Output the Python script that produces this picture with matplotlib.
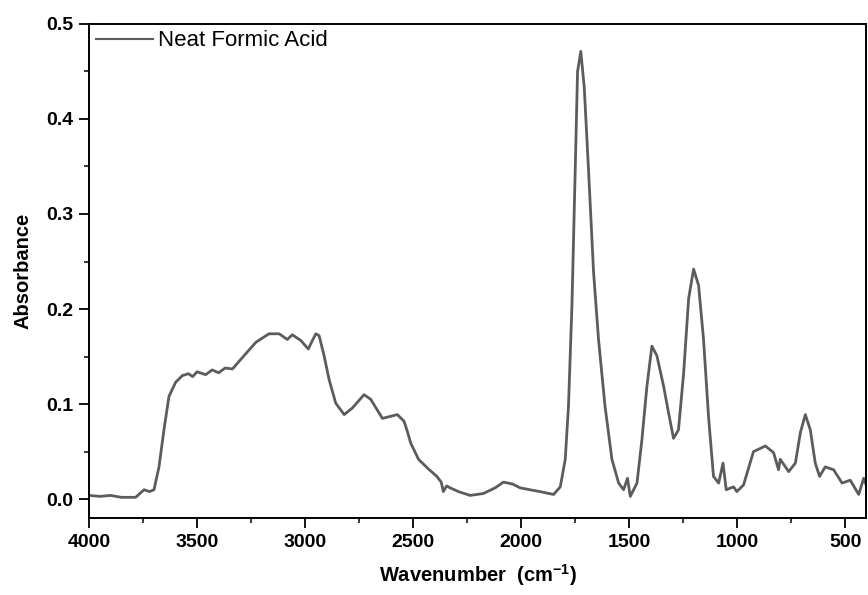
import matplotlib
matplotlib.use("Agg")
import matplotlib.pyplot as plt
from matplotlib.ticker import MultipleLocator, FormatStrFormatter

wavenumber = [4000, 3950, 3900, 3850, 3784, 3745, 3720, 3699, 3676, 3653, 3630, 3599, 3568,
              3540, 3520, 3500, 3460, 3430, 3400, 3370, 3336, 3290, 3228, 3167, 3120, 3082, 3059, 3020, 2985, 2966,
              2950, 2935, 2912, 2889, 2858, 2819, 2781, 2727, 2696, 2642, 2573, 2542, 2529,
              2511, 2475, 2430, 2390, 2370, 2360, 2345, 2329, 2290, 2236, 2175, 2120, 2082,
              2040, 2005, 1960, 1912, 1850, 1819, 1796, 1781, 1765, 1750, 1739, 1724, 1708,
              1688, 1665, 1642, 1612, 1580, 1549, 1526, 1508, 1495, 1464, 1441, 1418, 1395,
              1372, 1341, 1318, 1295, 1272, 1248, 1225, 1202, 1179, 1156, 1133, 1110, 1086,
              1066, 1051, 1017, 1002, 971, 925, 870, 832, 809, 801, 762, 731, 708, 685, 662,
              639, 619, 593, 554, 515, 477, 438, 415, 400]
absorbance = [0.004, 0.003, 0.004, 0.002, 0.002, 0.010, 0.008, 0.010, 0.034, 0.073, 0.108, 0.123, 0.130,
              0.132, 0.129, 0.134, 0.131, 0.136, 0.133, 0.138, 0.137, 0.149, 0.165, 0.174, 0.174, 0.168, 0.173, 0.167, 0.158, 0.167,
              0.174, 0.172, 0.151, 0.126, 0.101, 0.089, 0.096, 0.110, 0.105, 0.085, 0.089, 0.082, 0.073,
              0.059, 0.042, 0.032, 0.024, 0.018, 0.008, 0.014, 0.012, 0.008, 0.004, 0.006, 0.012, 0.018,
              0.016, 0.012, 0.010, 0.008, 0.005, 0.013, 0.042, 0.098, 0.204, 0.345, 0.450, 0.471, 0.433,
              0.345, 0.239, 0.168, 0.098, 0.042, 0.017, 0.010, 0.022, 0.003, 0.017, 0.063, 0.119, 0.161,
              0.151, 0.119, 0.091, 0.064, 0.073, 0.133, 0.211, 0.242, 0.225, 0.168, 0.087, 0.024, 0.017,
              0.038, 0.010, 0.013, 0.008, 0.015, 0.050, 0.056, 0.049, 0.031, 0.042, 0.029, 0.038, 0.070, 0.089, 0.073,
              0.038, 0.024, 0.034, 0.031, 0.017, 0.020, 0.005, 0.022, 0.013]

series_label = "Neat Formic Acid"
x_label = "Wavenumber  (cm$^{-1}$)"
y_label = "Absorbance"

plt.rcParams['font.family'] = ['Liberation Sans', 'DejaVu Sans']
plt.rcParams['mathtext.fontset'] = 'custom'
plt.rcParams['mathtext.rm'] = 'Liberation Sans:bold'
plt.rcParams['mathtext.bf'] = 'Liberation Sans:bold'
plt.rcParams['mathtext.it'] = 'Liberation Sans:bold'

fig = plt.figure(figsize=(8.68, 5.95), dpi=100)
ax = fig.add_axes([0.1025, 0.129, 0.8955, 0.831])

ax.plot(wavenumber, absorbance, color='#5c5c5c', lw=2.0, label=series_label)

ax.set_xlim(4000, 403)
ax.set_ylim(-0.02, 0.5)
ax.xaxis.set_major_locator(MultipleLocator(500))
ax.xaxis.set_minor_locator(MultipleLocator(250))
ax.yaxis.set_major_locator(MultipleLocator(0.1))
ax.yaxis.set_minor_locator(MultipleLocator(0.05))
ax.tick_params(which='major', direction='out', length=7, width=1.3, labelsize=14, pad=4)
ax.tick_params(which='minor', direction='out', length=3.6, width=1.1)
ax.yaxis.set_major_formatter(FormatStrFormatter('%.1f'))
for lbl in ax.get_xticklabels() + ax.get_yticklabels():
    lbl.set_fontweight('bold')
for s in ax.spines.values():
    s.set_linewidth(1.4)

ax.set_xlabel(x_label, fontsize=14.5, fontweight='bold', labelpad=8)
ax.set_ylabel(y_label, fontsize=14.5, fontweight='bold', labelpad=10)

leg = ax.legend(loc='upper left', frameon=False, fontsize=16, handlelength=2.6,
                borderaxespad=0.15, handletextpad=0.2, borderpad=0.15)
leg.get_lines()[0].set_linewidth(1.5)

fig.savefig('out.png', dpi=100)
